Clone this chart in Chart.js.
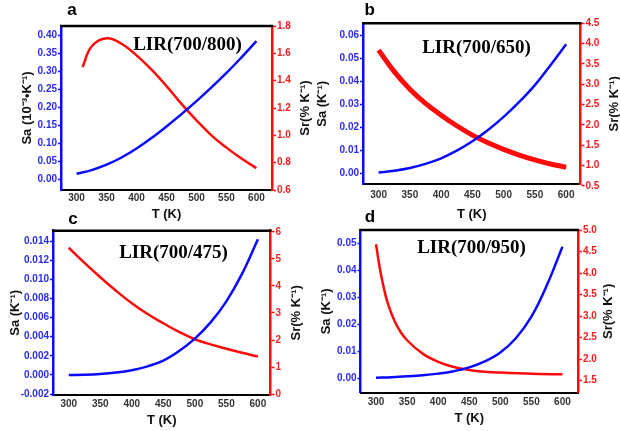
<!DOCTYPE html>
<html><head><meta charset="utf-8">
<script src="https://cdn.jsdelivr.net/npm/chart.js@4/dist/chart.umd.min.js"></script>
<style>
html,body{margin:0;padding:0;background:#fff;}
body{width:620px;height:431px;position:relative;overflow:hidden;}
canvas{position:absolute;}
</style></head>
<body>
<canvas id="ca" width="318" height="222" style="left:0;top:0"></canvas>
<canvas id="cb" width="308" height="222" style="left:312px;top:0"></canvas>
<canvas id="cc" width="318" height="226" style="left:0;top:205px"></canvas>
<canvas id="cd" width="308" height="226" style="left:312px;top:205px"></canvas>
<script>
// ---- data ----
const xTicks = [300, 350, 400, 450, 500, 550, 600];

// panel a : LIR(700/800)
const tSaA = [300, 325, 350, 375, 400, 425, 450, 475, 500, 525, 550, 575, 600];
const saA  = [0.016, 0.026, 0.041, 0.061, 0.086, 0.115, 0.147, 0.181, 0.217, 0.255, 0.295, 0.338, 0.383];
const tSrA = [310, 325, 350, 375, 400, 425, 450, 475, 500, 525, 550, 575, 600];
const srA  = [1.50, 1.65, 1.71, 1.67, 1.585, 1.48, 1.36, 1.23, 1.11, 1.00, 0.91, 0.83, 0.76];
const leftTicksA  = [0, 0.05, 0.10, 0.15, 0.20, 0.25, 0.30, 0.35, 0.40];
const rightTicksA = [0.6, 0.8, 1.0, 1.2, 1.4, 1.6, 1.8];

// panel b : LIR(700/650)
const tSaB = [300, 325, 350, 375, 400, 425, 450, 475, 500, 525, 550, 575, 600];
const saB  = [0.0005, 0.0013, 0.0025, 0.0043, 0.0067, 0.0100, 0.0141, 0.0190, 0.0247, 0.0312, 0.0385, 0.0472, 0.0563];
const tSrB = [300, 325, 350, 375, 400, 425, 450, 475, 500, 525, 550, 575, 600];
const srB  = [3.84, 3.31, 2.88, 2.53, 2.24, 1.98, 1.75, 1.56, 1.40, 1.26, 1.14, 1.04, 0.96];
const leftTicksB  = [0, 0.01, 0.02, 0.03, 0.04, 0.05, 0.06];
const rightTicksB = [0.5, 1.0, 1.5, 2.0, 2.5, 3.0, 3.5, 4.0, 4.5];

// panel c : LIR(700/475)
const tSaC = [300, 325, 350, 375, 400, 425, 450, 475, 500, 525, 550, 575, 600];
const saC  = [0.0000, 0.00002, 0.0001, 0.00025, 0.0005, 0.0009, 0.0015, 0.0025, 0.0038, 0.0055, 0.0077, 0.0106, 0.0142];
const tSrC = [300, 325, 350, 375, 400, 425, 450, 475, 500, 525, 550, 575, 600];
const srC  = [5.41, 4.85, 4.32, 3.82, 3.36, 2.96, 2.62, 2.30, 2.03, 1.84, 1.68, 1.53, 1.39];
const leftTicksC  = [-0.002, 0, 0.002, 0.004, 0.006, 0.008, 0.010, 0.012, 0.014];
const rightTicksC = [0, 1, 2, 3, 4, 5, 6];

// panel d : LIR(700/950)
const tSaD = [300, 325, 350, 375, 400, 425, 450, 475, 500, 525, 550, 575, 600];
const saD  = [0.0002, 0.0004, 0.0007, 0.0011, 0.0017, 0.0026, 0.0040, 0.0062, 0.0095, 0.0148, 0.0228, 0.0345, 0.0487];
const tSrD = [300, 305, 310, 315, 320, 330, 340, 350, 375, 400, 425, 450, 475, 500, 550, 600];
const srD  = [4.67, 4.20, 3.82, 3.50, 3.25, 2.88, 2.62, 2.44, 2.13, 1.94, 1.82, 1.75, 1.71, 1.69, 1.66, 1.65];
const leftTicksD  = [0, 0.01, 0.02, 0.03, 0.04, 0.05];
const rightTicksD = [1.5, 2.0, 2.5, 3.0, 3.5, 4.0, 4.5, 5.0];

// ---- drawing ----
const BLUE = '#0a0aff', RED = '#ff0a0a', BLUE_T = '#2b2bf0', RED_T = '#f02020';
const SANS = '"Liberation Sans", Arial, sans-serif';
const SR_TITLE = 'Sr(% K\u207B\u00B9)';

const decor = {
  id: 'decor',
  afterDraw(chart, args, o) {
    const ctx = chart.ctx, a = chart.chartArea;
    ctx.save();
    ctx.strokeStyle = '#000'; ctx.lineWidth = 2.5;
    ctx.beginPath(); ctx.moveTo(a.left - 1, a.top); ctx.lineTo(a.right + 1, a.top); ctx.stroke();
    ctx.fillStyle = '#000';
    ctx.textAlign = 'center'; ctx.textBaseline = 'alphabetic';
    ctx.font = 'bold 19px "Liberation Serif", "Times New Roman", serif';
    ctx.fillText(o.sub, o.subX - o.cx, o.subY - o.cy);
    ctx.font = 'bold 17px ' + SANS;
    ctx.fillText(o.letter, o.lx - o.cx, o.ly - o.cy);
    // right axis title, reading bottom-to-top
    ctx.fillStyle = '#111';
    ctx.font = 'bold 13px ' + SANS;
    ctx.textBaseline = 'middle';
    ctx.translate(o.rx - o.cx, (a.top + a.bottom) / 2);
    ctx.rotate(-Math.PI / 2);
    ctx.fillText(SR_TITLE, 0, 0);
    ctx.restore();
  }
};

function pts(xs, ys) { return xs.map((x, i) => ({x: x, y: ys[i]})); }
function setTicks(arr) { return s => { s.ticks = arr.map(v => ({value: v})); }; }

function makePanel(id, p) {
  const canvas = document.getElementById(id);
  const W = canvas.width, H = canvas.height;
  const leftW = p.area.l - p.cx, rightW = (p.cx + W) - p.area.r;
  const topPad = p.area.t - p.cy, xH = (p.cy + H) - p.area.b;
  new Chart(canvas, {
    type: 'line',
    data: {
      datasets: [
        {data: pts(p.tSa, p.sa), yAxisID: 'yL', borderColor: BLUE, borderWidth: 2.5, pointRadius: 0, tension: 0.4, fill: false},
        {data: pts(p.tSr, p.sr), yAxisID: 'yR', borderColor: RED, borderWidth: p.redW, pointRadius: 0,
         tension: 0.4, cubicInterpolationMode: p.redMono ? 'monotone' : 'default', fill: false}
      ]
    },
    options: {
      responsive: false, animation: false, devicePixelRatio: 1,
      layout: {padding: {top: topPad, left: 0, right: 0, bottom: 0}},
      plugins: {legend: {display: false}, tooltip: {enabled: false},
        decor: {sub: p.sub, subX: p.subX, subY: p.subY, letter: p.letter, lx: p.lx, ly: p.ly, cx: p.cx, cy: p.cy, rx: p.rx}},
      scales: {
        x: {
          type: 'linear', position: 'bottom', min: p.xMin, max: p.xMax,
          afterBuildTicks: setTicks(xTicks),
          afterFit: s => { s.height = xH; },
          grid: {drawOnChartArea: false, drawTicks: false},
          border: {color: '#000', width: 2},
          ticks: {color: '#333', font: {family: SANS, size: 10, weight: 'bold'}, padding: p.xTickPad, maxRotation: 0, autoSkip: false},
          title: {display: true, text: 'T (K)', color: '#111', font: {family: SANS, size: 13, weight: 'bold', lineHeight: 1}, padding: {top: 0, bottom: p.xTitlePad}}
        },
        yL: {
          type: 'linear', position: 'left', min: p.lMin, max: p.lMax,
          afterBuildTicks: setTicks(p.lTicks),
          afterFit: s => { s.width = leftW; },
          grid: {drawOnChartArea: false, drawTicks: true, tickLength: 3, color: BLUE, tickWidth: 1.5},
          border: {color: BLUE, width: 2.5},
          ticks: {color: BLUE_T, font: {family: SANS, size: 10, weight: 'bold'}, padding: 1, autoSkip: false,
                  callback: v => v.toFixed(p.lDec)},
          title: {display: true, text: p.lTitle, color: '#111', font: {family: SANS, size: 13, weight: 'bold', lineHeight: 1}, padding: {top: p.leftPad, bottom: 0}}
        },
        yR: {
          type: 'linear', position: 'right', min: p.rMin, max: p.rMax,
          afterBuildTicks: setTicks(p.rTicks),
          afterFit: s => { s.width = rightW; },
          grid: {drawOnChartArea: false, drawTicks: true, tickLength: 4, color: RED, tickWidth: 1.5},
          border: {color: RED, width: 2.5},
          ticks: {color: RED_T, font: {family: SANS, size: 10, weight: 'bold'}, padding: 1, autoSkip: false,
                  callback: v => v.toFixed(p.rDec)},
          title: {display: false}
        }
      }
    },
    plugins: [decor]
  });
}

makePanel('ca', {cx: 0, cy: 0, area: {l: 61, r: 272, t: 26, b: 190},
  tSa: tSaA, sa: saA, tSr: tSrA, sr: srA, redW: 2.5, redMono: false,
  xMin: 274, xMax: 626, lMin: -0.029, lMax: 0.425, rMin: 0.6, rMax: 1.8,
  lTicks: leftTicksA, rTicks: rightTicksA, lDec: 2, rDec: 1,
  lTitle: 'Sa (10\u207B\u00B3\u2022K\u207B\u00B9)', leftPad: 21, rx: 305, xTickPad: 2, xTitlePad: 1,
  sub: 'LIR(700/800)', subX: 187.5, subY: 50, letter: 'a', lx: 72, ly: 15});

makePanel('cb', {cx: 312, cy: 0, area: {l: 363, r: 580.5, t: 23.3, b: 184.3},
  tSa: tSaB, sa: saB, tSr: tSrB, sr: srB, redW: 5, redMono: false,
  xMin: 275, xMax: 623, lMin: -0.0046, lMax: 0.0654, rMin: 0.54, rMax: 4.5,
  lTicks: leftTicksB, rTicks: rightTicksB, lDec: 2, rDec: 1,
  lTitle: 'Sa (K\u207B\u00B9)', leftPad: 4, rx: 614, xTickPad: 5, xTitlePad: 1,
  sub: 'LIR(700/650)', subX: 476.5, subY: 53, letter: 'b', lx: 369.6, ly: 15});

makePanel('cc', {cx: 0, cy: 205, area: {l: 53, r: 270.5, t: 230.7, b: 395},
  tSa: tSaC, sa: saC, tSr: tSrC, sr: srC, redW: 2.5, redMono: false,
  xMin: 275, xMax: 620, lMin: -0.0021, lMax: 0.0151, rMin: -0.03, rMax: 6.04,
  lTicks: leftTicksC, rTicks: rightTicksC, lDec: 3, rDec: 0,
  lTitle: 'Sa (K\u207B\u00B9)', leftPad: 8.5, rx: 296, xTickPad: 3, xTitlePad: 4.5,
  sub: 'LIR(700/475)', subX: 173.5, subY: 257.5, letter: 'c', lx: 73, ly: 224});

makePanel('cd', {cx: 312, cy: 205, area: {l: 360.5, r: 578, t: 230, b: 392.8},
  tSa: tSaD, sa: saD, tSr: tSrD, sr: srD, redW: 2.5, redMono: true,
  xMin: 275, xMax: 625, lMin: -0.0054, lMax: 0.0549, rMin: 1.22, rMax: 5.0,
  lTicks: leftTicksD, rTicks: rightTicksD, lDec: 2, rDec: 1,
  lTitle: 'Sa (K\u207B\u00B9)', leftPad: 7.5, rx: 608, xTickPad: 3, xTitlePad: 6.2,
  sub: 'LIR(700/950)', subX: 471.5, subY: 252.5, letter: 'd', lx: 370, ly: 222});
</script>
</body></html>
